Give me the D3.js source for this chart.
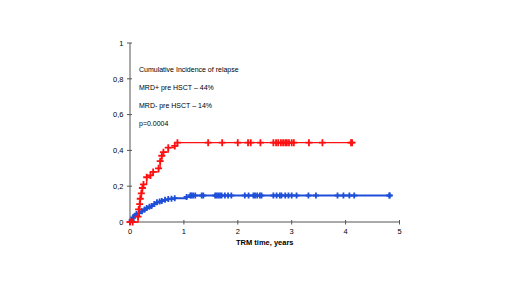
<!DOCTYPE html>
<html>
<head>
<meta charset="utf-8">
<script src="https://cdn.jsdelivr.net/npm/d3@7"></script>
<style>
  body { margin: 0; background: #fff; }
  text { font-family: "Liberation Sans", Arial, sans-serif; }
</style>
</head>
<body>
<div id="chart"></div>
<script>
// Data: [time in years, cumulative incidence]
const redSteps = [[0, 0], [0.05, 0], [0.15, 0.03], [0.16, 0.07], [0.18, 0.10], [0.19, 0.13], [0.21, 0.16],
  [0.23, 0.19], [0.25, 0.21], [0.31, 0.25], [0.38, 0.26], [0.43, 0.28], [0.53, 0.30], [0.56, 0.34],
  [0.59, 0.37], [0.62, 0.39], [0.71, 0.415], [0.83, 0.425], [0.88, 0.443]]
const redCensor = [1.45, 1.71, 2.0, 2.19, 2.24, 2.42, 2.66, 2.71, 2.75, 2.80, 2.84, 2.88, 2.91, 2.95,
  3.0, 3.04, 3.32, 3.57, 4.10]
const redEnd = 4.12

const blueSteps = [[0, 0], [0.03, 0.01], [0.06, 0.026], [0.09, 0.035], [0.12, 0.044], [0.17, 0.05],
  [0.22, 0.06], [0.27, 0.07], [0.31, 0.078], [0.36, 0.085], [0.40, 0.09], [0.45, 0.1], [0.50, 0.11],
  [0.55, 0.114], [0.59, 0.118], [0.65, 0.124], [0.71, 0.128], [0.77, 0.13], [0.83, 0.133],
  [1.05, 0.14], [1.12, 0.148]]
const blueCensor = [1.14, 1.17, 1.21, 1.33, 1.36, 1.58, 1.61, 1.64, 1.67, 1.70, 1.76, 1.82, 1.88, 2.13,
  2.20, 2.29, 2.32, 2.36, 2.41, 2.44, 2.66, 2.72, 2.78, 2.81, 2.88, 2.94, 3.0, 3.09, 3.31, 3.45,
  3.85, 3.96, 4.07, 4.16, 4.81]
const blueEnd = 4.82

const xTicks = [0, 1, 2, 3, 4, 5]
const yTicks = [0, 0.2, 0.4, 0.6, 0.8, 1]
const notes = ['Cumulative Incidence of relapse', 'MRD+ pre HSCT \u2013 44%', 'MRD- pre HSCT \u2013 14%', 'p=0.0004']

// Dimensions
const width = 520, height = 292

const svg = d3.select('#chart')
  .append('svg')
  .attr('width', width)
  .attr('height', height)

const xScale = d3.scaleLinear().domain([0, 5]).range([130, 399.5])
const yScale = d3.scaleLinear().domain([0, 1]).range([222, 43])

const axisColor = '#555'

// Axes
const xAxis = svg.append('g')
xAxis.append('line')
  .attr('x1', xScale(0)).attr('x2', xScale(5))
  .attr('y1', yScale(0)).attr('y2', yScale(0))
  .attr('stroke', axisColor)
xAxis.selectAll('line.tick')
  .data(xTicks)
  .join('line')
  .classed('tick', true)
  .attr('x1', d => xScale(d)).attr('x2', d => xScale(d))
  .attr('y1', yScale(0) - 2).attr('y2', yScale(0) + 2.5)
  .attr('stroke', axisColor)
xAxis.selectAll('text')
  .data(xTicks)
  .join('text')
  .attr('x', d => xScale(d))
  .attr('y', yScale(0) + 11.5)
  .attr('text-anchor', 'middle')
  .attr('font-size', 7.5)
  .text(d => d)

const yAxis = svg.append('g')
yAxis.append('line')
  .attr('x1', xScale(0)).attr('x2', xScale(0))
  .attr('y1', yScale(0)).attr('y2', yScale(1))
  .attr('stroke', axisColor)
yAxis.selectAll('line.tick')
  .data(yTicks)
  .join('line')
  .classed('tick', true)
  .attr('x1', xScale(0) - 3).attr('x2', xScale(0) + 2)
  .attr('y1', d => yScale(d)).attr('y2', d => yScale(d))
  .attr('stroke', axisColor)
yAxis.selectAll('text')
  .data(yTicks)
  .join('text')
  .attr('x', xScale(0) - 6.5)
  .attr('y', d => yScale(d) + 2.7)
  .attr('text-anchor', 'end')
  .attr('font-size', 7.5)
  .text(d => d3.format('.1~f')(d).replace('.', ','))

svg.append('text')
  .attr('x', (xScale(0) + xScale(5)) / 2)
  .attr('y', yScale(0) + 23)
  .attr('text-anchor', 'middle')
  .attr('font-size', 7.5)
  .attr('font-weight', 'bold')
  .text('TRM time, years')

// Notes
svg.append('g')
  .selectAll('text')
  .data(notes)
  .join('text')
  .attr('x', 139)
  .attr('y', (d, i) => 71.5 + i * 18)
  .attr('font-size', 7)
  .text(d => d)

// Curves
const line = d3.line()
  .x(d => xScale(d[0]))
  .y(d => yScale(d[1]))
  .curve(d3.curveStepAfter)

const plus = s => `M${-s},0H${s}M0,${-s}V${s}`

function curve(steps, censor, end, color, lw, ms) {
  const last = steps[steps.length - 1][1]
  const g = svg.append('g')
  g.append('path')
    .datum([...steps, [end, last]])
    .attr('d', line)
    .attr('fill', 'none')
    .attr('stroke', color)
    .attr('stroke-width', lw)

  const marks = [...steps, ...censor.map(t => [t, last]), [end, last]]
  g.selectAll('path.mark')
    .data(marks)
    .join('path')
    .classed('mark', true)
    .attr('transform', d => `translate(${xScale(d[0])},${yScale(d[1])})`)
    .attr('d', plus(ms))
    .attr('fill', 'none')
    .attr('stroke', color)
    .attr('stroke-width', 1.8)
}

curve(blueSteps, blueCensor, blueEnd, '#1f4fd8', 2, 3)
curve(redSteps, redCensor, redEnd, '#ff1010', 1.3, 3.5)
</script>
</body>
</html>
